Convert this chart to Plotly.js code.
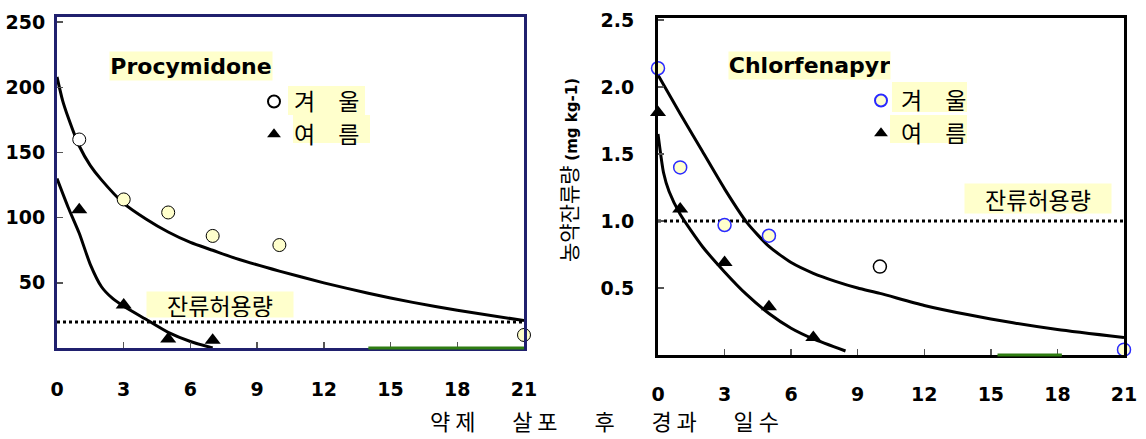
<!DOCTYPE html>
<html>
<head>
<meta charset="utf-8">
<script src="https://cdn.plot.ly/plotly-3.0.1.min.js"></script>
<style>html,body{margin:0;padding:0;background:#fff;}#chart{width:1146px;height:439px;}</style>
</head>
<body>
<div id="chart"></div>
<script>
// ---------- data ----------
const xTickVals = [0, 3, 6, 9, 12, 15, 18, 21];
const seasonNames = ['겨\u3000울', '여\u3000름'];

// Procymidone (left)
const procWinterDays = [1, 3, 5, 7, 10, 21];
const procWinterRes  = [160, 114, 104, 86, 79, 10];
const procSummerDays = [1, 3, 5, 7];
const procSummerRes  = [106, 33, 7, 6];
const procWinterFitDays = [0, 0.25, 0.5, 1, 1.5, 2, 3, 4, 5, 6, 7, 8, 10, 12, 14, 16, 18, 21];
const procWinterFitRes  = [208, 190, 177, 155, 140, 129, 111, 99, 89, 81, 75, 69, 59, 50, 42, 35, 29, 21];
const procSummerFitDays = [0, 0.5, 1, 1.5, 2, 2.5, 3, 4, 5, 6, 7];
const procSummerFitRes  = [130, 108, 88, 64, 47, 38, 32, 22, 12, 5, 0];
const procMRL = 20;
const procYTickVals = [50, 100, 150, 200, 250];

// Chlorfenapyr (right)
const chlWinterDays = [0, 1, 3, 5, 10, 21];
const chlWinterRes  = [2.14, 1.40, 0.97, 0.89, 0.66, 0.04];
const chlSummerDays = [0, 1, 3, 5, 7];
const chlSummerRes  = [1.81, 1.09, 0.69, 0.36, 0.13];
const chlWinterFitDays = [0, 1, 2, 3, 4, 5, 6, 7, 8, 9, 10, 12, 14, 16, 18, 21];
const chlWinterFitRes  = [2.09, 1.80, 1.52, 1.24, 0.99, 0.81, 0.69, 0.61, 0.55, 0.50, 0.46, 0.37, 0.30, 0.24, 0.19, 0.13];
const chlSummerFitDays = [0, 0.25, 0.5, 1, 2, 3, 4, 5, 6, 7, 8.45];
const chlSummerFitRes  = [1.65, 1.36, 1.22, 1.05, 0.81, 0.62, 0.45, 0.31, 0.20, 0.12, 0.03];
const chlMRL = 1.0;
const chlYTickVals = [0.5, 1.0, 1.5, 2.0, 2.5];
const chlYTickText = ['0.5', '1.0', '1.5', '2.0', '2.5'];

const procTitle = 'Procymidone';
const chlTitle = 'Chlorfenapyr';
const mrlLabel = '잔류허용량';
const xTitle = '약\u00a0제\u3000\u00a0\u00a0\u00a0살\u00a0포\u3000\u00a0\u00a0\u00a0후\u3000\u00a0\u00a0\u00a0경\u00a0과\u3000\u00a0\u00a0\u00a0일\u00a0수';
const yTitleKo = '농약잔류량';
const yTitleUnit = '(mg kg-1)';

// ---------- styles ----------
const W = 1146, H = 439;
const KO = 'Noto Sans CJK KR';
const BOLD = {family: 'DejaVu Sans', weight: 'bold', size: 19, color: '#000'};
const YEL = '#ffffcc';
const navy = '#20206e';
const green = '#2f7d12';
const px = v => v / W;
const py = v => 1 - v / H;
const SM = 0.6;

const traces = [
  // left fits
  {x: procWinterFitDays, y: procWinterFitRes, xaxis: 'x', yaxis: 'y', mode: 'lines', showlegend: false,
   line: {color: '#000', width: 3, shape: 'spline', smoothing: SM}, hoverinfo: 'skip'},
  {x: procSummerFitDays, y: procSummerFitRes, xaxis: 'x', yaxis: 'y', mode: 'lines', showlegend: false,
   line: {color: '#000', width: 3, shape: 'spline', smoothing: SM}, hoverinfo: 'skip'},
  {x: [0, 21], y: [procMRL, procMRL], xaxis: 'x', yaxis: 'y', mode: 'lines', showlegend: false,
   line: {color: '#000', width: 3, dash: 'dot'}},
  {x: procWinterDays, y: procWinterRes, xaxis: 'x', yaxis: 'y', mode: 'markers', name: seasonNames[0], legend: 'legend',
   cliponaxis: false,
   marker: {symbol: 'circle', size: 13, color: ['#ffffff', YEL, YEL, YEL, YEL, YEL], line: {color: '#000', width: 1}}},
  {x: procSummerDays, y: procSummerRes, xaxis: 'x', yaxis: 'y', mode: 'markers', name: seasonNames[1], legend: 'legend',
   cliponaxis: false,
   marker: {symbol: 'triangle-up', size: 14, color: '#000'}},
  // right fits
  {x: chlWinterFitDays, y: chlWinterFitRes, xaxis: 'x2', yaxis: 'y2', mode: 'lines', showlegend: false,
   line: {color: '#000', width: 3, shape: 'spline', smoothing: SM}, hoverinfo: 'skip'},
  {x: chlSummerFitDays, y: chlSummerFitRes, xaxis: 'x2', yaxis: 'y2', mode: 'lines', showlegend: false,
   line: {color: '#000', width: 3, shape: 'spline', smoothing: SM}, hoverinfo: 'skip'},
  {x: [0, 21], y: [chlMRL, chlMRL], xaxis: 'x2', yaxis: 'y2', mode: 'lines', showlegend: false,
   line: {color: '#000', width: 3, dash: 'dot'}},
  {x: chlWinterDays, y: chlWinterRes, xaxis: 'x2', yaxis: 'y2', mode: 'markers', name: seasonNames[0], legend: 'legend2',
   cliponaxis: false,
   marker: {symbol: 'circle', size: 13, color: [YEL, YEL, YEL, YEL, '#ffffff', YEL],
            line: {color: ['#2a2aff', '#2a2aff', '#2a2aff', '#2a2aff', '#000', '#2a2aff'], width: 1.5}}},
  {x: chlSummerDays, y: chlSummerRes, xaxis: 'x2', yaxis: 'y2', mode: 'markers', name: seasonNames[1], legend: 'legend2',
   cliponaxis: false,
   marker: {symbol: 'triangle-up', size: 14, color: '#000'}}
];

function xAxis(domain, anchor, color, standoff) {
  return {domain: domain, anchor: anchor, range: [0, 21], tickvals: xTickVals, ticks: 'inside', ticklen: 6, tickwidth: 1.5,
    tickcolor: '#555', showgrid: false, zeroline: false, showline: true, mirror: true, linewidth: 3, linecolor: color,
    tickfont: BOLD, ticklabelstandoff: standoff, fixedrange: true};
}
function yAxis(domain, anchor, range, vals, text, color, standoff) {
  const a = {domain: domain, anchor: anchor, range: range, tickvals: vals, ticks: 'inside', ticklen: 6, tickwidth: 1.5,
    tickcolor: '#555', showgrid: false, zeroline: false, showline: true, mirror: true, linewidth: 3, linecolor: color,
    tickfont: BOLD, ticklabelstandoff: standoff, fixedrange: true};
  if (text) a.ticktext = text;
  return a;
}

const legendFont = {family: KO, size: 23, color: '#000'};

const layout = {
  width: W, height: H, margin: {l: 0, r: 0, t: 0, b: 0},
  paper_bgcolor: '#fff', plot_bgcolor: '#fff',
  xaxis: xAxis([px(57), px(524)], 'y', navy, 22),
  yaxis: yAxis([py(348), py(17)], 'x', [0, 254], procYTickVals, null, navy, 5),
  xaxis2: xAxis([px(658), px(1124)], 'y2', '#000', 20),
  yaxis2: yAxis([py(355), py(18)], 'x2', [0, 2.515], chlYTickVals, chlYTickText, '#000', 17),
  legend: {x: px(254), y: py(80), xanchor: 'left', yanchor: 'top', bgcolor: 'rgba(0,0,0,0)',
           font: legendFont, borderwidth: 0, itemsizing: 'constant'},
  legend2: {x: px(861), y: py(79), xanchor: 'left', yanchor: 'top', bgcolor: 'rgba(0,0,0,0)',
            font: legendFont, borderwidth: 0, itemsizing: 'constant'},
  shapes: [
    {type: 'rect', xref: 'paper', yref: 'paper', x0: px(288), x1: px(365), y0: py(115), y1: py(86), fillcolor: YEL, line: {width: 0}, layer: 'below'},
    {type: 'rect', xref: 'paper', yref: 'paper', x0: px(293), x1: px(370), y0: py(143), y1: py(115), fillcolor: YEL, line: {width: 0}, layer: 'below'},
    {type: 'rect', xref: 'paper', yref: 'paper', x0: px(892), x1: px(967), y0: py(112), y1: py(82), fillcolor: YEL, line: {width: 0}, layer: 'below'},
    {type: 'rect', xref: 'paper', yref: 'paper', x0: px(890), x1: px(967), y0: py(143), y1: py(115), fillcolor: YEL, line: {width: 0}, layer: 'below'},
    {type: 'line', xref: 'x', yref: 'paper', x0: 14, x1: 21, y0: py(348), y1: py(348), line: {color: green, width: 3}, layer: 'above'},
    {type: 'line', xref: 'x2', yref: 'paper', x0: 15.3, x1: 18.2, y0: py(355), y1: py(355), line: {color: green, width: 3}, layer: 'above'}
  ],
  annotations: [
    {text: procTitle, xref: 'paper', yref: 'paper', x: px(191), y: py(66), xanchor: 'center', yanchor: 'middle',
     showarrow: false, bgcolor: YEL, width: 162, height: 28, borderpad: 0,
     font: {family: 'DejaVu Sans', weight: 'bold', size: 22, color: '#000'}},
    {text: chlTitle, xref: 'paper', yref: 'paper', x: px(809.5), y: py(65.5), xanchor: 'center', yanchor: 'middle',
     showarrow: false, bgcolor: YEL, width: 161, height: 27, borderpad: 0,
     font: {family: 'DejaVu Sans', weight: 'bold', size: 22, color: '#000'}},
    {text: mrlLabel, xref: 'paper', yref: 'paper', x: px(220), y: py(304.5), xanchor: 'center', yanchor: 'middle',
     showarrow: false, bgcolor: YEL, width: 146, height: 25, borderpad: 0,
     font: {family: KO, size: 23, color: '#000'}},
    {text: mrlLabel, xref: 'paper', yref: 'paper', x: px(1038), y: py(198.5), xanchor: 'center', yanchor: 'middle',
     showarrow: false, bgcolor: YEL, width: 146, height: 29, borderpad: 0,
     font: {family: KO, size: 23, color: '#000'}},
    {text: xTitle, xref: 'paper', yref: 'paper', x: px(604), y: py(420), xanchor: 'center', yanchor: 'middle',
     showarrow: false, font: {family: KO, size: 22, color: '#000'}},
    {text: yTitleKo + ' <b><span style="font-size:15px;font-family:DejaVu Sans">' + yTitleUnit + '</span></b>',
     xref: 'paper', yref: 'paper', x: px(568), y: py(170), xanchor: 'center', yanchor: 'middle', textangle: -90,
     showarrow: false, font: {family: KO, size: 21, color: '#000'}}
  ]
};

Plotly.newPlot('chart', traces, layout, {staticPlot: true, displayModeBar: false});
</script>
</body>
</html>
